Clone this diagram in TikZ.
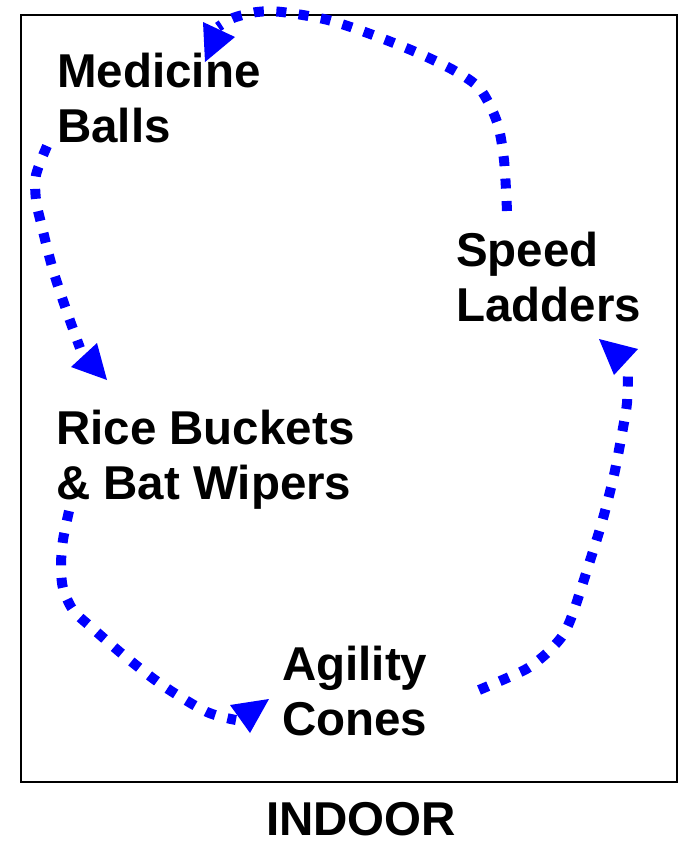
\documentclass[tikz,border=0pt]{standalone}
\usepackage{fontspec}
\setmainfont{Liberation Sans}
\begin{document}
\begin{tikzpicture}[x=1pt,y=-1pt,
  lbl/.style={anchor=base west, inner sep=0pt, font=\fontsize{47.5}{55}\selectfont\bfseries},
  flow/.style={draw=blue, line width=10pt, dash pattern=on 10pt off 12.5pt, line cap=butt},
  tipfill/.style={fill=blue, draw=none}]
\useasboundingbox (0,0) rectangle (681,841);
\draw[line width=2pt] (21,15) rectangle (677,782);

\node[lbl] (med) at (57,87) {\begin{tabular}[t]{@{}l@{}}Medicine\\Balls\end{tabular}};
\node[lbl] (speed) at (456,266) {\begin{tabular}[t]{@{}l@{}}Speed\\Ladders\end{tabular}};
\node[lbl] (rice) at (56,444) {\begin{tabular}[t]{@{}l@{}}Rice Buckets\\\& Bat Wipers\end{tabular}};
\node[lbl] (agil) at (282,680) {\begin{tabular}[t]{@{}l@{}}Agility\\Cones\end{tabular}};
\node[anchor=base, inner sep=0pt, font=\fontsize{47.5}{55}\selectfont\bfseries] (title) at (361,835) {INDOOR};

% Speed Ladders -> Medicine Balls
\coordinate (a0) at (507,211);
\coordinate (a1) at (218,27);
\draw[flow] plot[smooth] coordinates {(a0) (504,160) (497,122) (480,89) (455,71) (418,53) (373,35) (328,20) (282,12) (257,12) (233,18) (a1)};
\fill[tipfill] (203,22) -- (235,37) -- (205,62) -- cycle;

% Medicine Balls -> Rice Buckets
\coordinate (b0) at (47,146);
\coordinate (b1) at (80,348);
\draw[flow] plot[smooth] coordinates {(b0) (36,175) (36,200) (41,223) (53,270) (68,315) (b1)};
\fill[tipfill] (71,367) -- (97,343) -- (107,380) -- cycle;

% Rice Buckets -> Agility Cones
\coordinate (c0) at (69,511);
\coordinate (c1) at (236,720);
\draw[flow] plot[smooth] coordinates {(c0) (63,540) (61,565) (63,588) (73,610) (91,627) (127,658) (165,687) (207,712) (c1)};
\fill[tipfill] (230,705) -- (269,699) -- (250,733) -- cycle;

% Agility Cones -> Speed Ladders
\coordinate (d0) at (479,690);
\coordinate (d1) at (628,374);
\draw[flow] plot[smooth] coordinates {(d0) (507,678) (528,668) (547,653) (563,635) (573,613) (588,567) (602,522) (614,475) (623,428) (627,403) (d1)};
\fill[tipfill] (599,339) -- (638,349) -- (614,375) -- cycle;
\end{tikzpicture}
\end{document}
